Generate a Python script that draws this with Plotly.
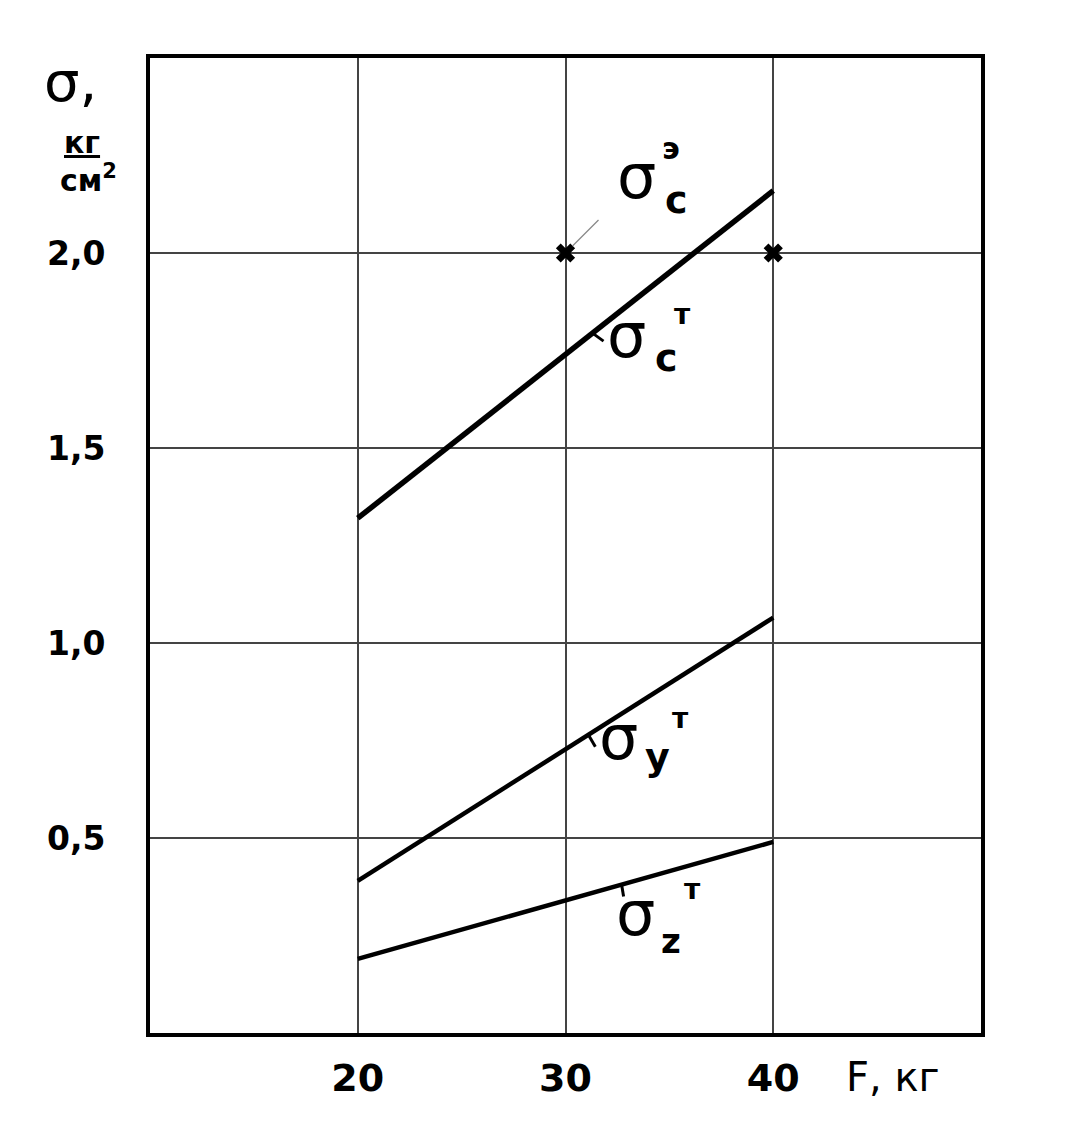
import plotly.graph_objects as go

# ---- data ----
F_load = [20, 40]                    # F, кг
sigma_c_T = [1.32, 2.16]             # σc^т
sigma_y_T = [0.39, 1.065]            # σy^т
sigma_z_T = [0.19, 0.49]             # σz^т
F_exp = [30, 40]                     # experimental points
sigma_c_E = [2.0, 2.0]               # σc^э

x_ticks = [20, 30, 40]
x_ticktext = ["20", "30", "40"]
y_ticks = [0.5, 1.0, 1.5, 2.0]
y_ticktext = ["0,5", "1,0", "1,5", "2,0"]

FONT = "DejaVu Sans"

# page has an 8px body margin; plot area on screen is 150..981 x 58..1033
PL, PR, PT, PB = 150, 981, 58, 1033
OFF = 8
W, H = 1068 - 2 * OFF, 1140 - 2 * OFF


def px2data(px, py):
    return 10 + (px - PL) * 40 / (PR - PL), (PB - py) * 2.5 / (PB - PT)


def px2paper(px, py):
    return (px - PL) / (PR - PL), (PB - py) / (PB - PT)


def interp(xs, ys, x):
    return ys[0] + (ys[1] - ys[0]) * (x - xs[0]) / (xs[1] - xs[0])


fig = go.Figure()
fig.add_trace(go.Scatter(x=F_load, y=sigma_c_T, mode="lines", line=dict(color="black", width=5.5), showlegend=False))
fig.add_trace(go.Scatter(x=F_load, y=sigma_y_T, mode="lines", line=dict(color="black", width=4.5), showlegend=False))
fig.add_trace(go.Scatter(x=F_load, y=sigma_z_T, mode="lines", line=dict(color="black", width=4.5), showlegend=False))
fig.add_trace(go.Scatter(x=F_exp, y=sigma_c_E, mode="markers",
                         marker=dict(symbol="x", size=17, color="black"), showlegend=False))

shapes = []
# leader from experimental point toward the σc^э label
shapes.append(dict(type="line", xref="x", yref="y", xsizemode="pixel", ysizemode="pixel",
                   xanchor=F_exp[0], yanchor=sigma_c_E[0], x0=7, y0=7, x1=33, y1=33,
                   line=dict(color="#888", width=1.2)))
# small ticks on lines next to labels
for xs, ys, xp, dx, dy in [(F_load, sigma_c_T, 31.3, 11, -8),
                           (F_load, sigma_y_T, 31.1, 7, -12),
                           (F_load, sigma_z_T, 32.7, 2, -12)]:
    shapes.append(dict(type="line", xref="x", yref="y", xsizemode="pixel", ysizemode="pixel",
                       xanchor=xp, yanchor=interp(xs, ys, xp), x0=0, y0=0, x1=dx, y1=dy,
                       line=dict(color="black", width=3)))

ann = []


def lab(px, py, t, size, bold=False):
    if bold:
        t = "<b>" + t + "</b>"
    x, y = px2data(px, py)
    ann.append(dict(x=x, y=y, xref="x", yref="y", text=t, showarrow=False,
                    xanchor="center", yanchor="middle",
                    font=dict(family=FONT, size=size, color="black")))


# σc^э
lab(636, 176, "σ", 62)
lab(676, 200, "c", 38, True)
lab(671, 148, "э", 30, True)
# σc^т
lab(626, 335, "σ", 62)
lab(666, 358, "c", 38, True)
lab(682, 314, "т", 28, True)
# σy^т
lab(618, 737, "σ", 62)
lab(657, 757, "y", 38, True)
lab(680, 718, "т", 28, True)
# σz^т
lab(635, 913, "σ", 62)
lab(671, 941, "z", 34, True)
lab(692, 889, "т", 28, True)


def plab(px, py, t, size, bold=True):
    if bold:
        t = "<b>" + t + "</b>"
    x, y = px2paper(px, py)
    ann.append(dict(x=x, y=y, xref="paper", yref="paper", text=t, showarrow=False,
                    xanchor="center", yanchor="middle",
                    font=dict(family=FONT, size=size, color="black")))


plab(70, 82, "σ,", 56, bold=False)
plab(82, 142, "<u>кг</u>", 30)
plab(88, 178, "см<sup>2</sup>", 30)
plab(893, 1077, "F, кг", 40, bold=False)

fig.update_layout(
    width=W, height=H,
    margin=dict(l=PL - OFF, r=W - (PR - OFF), t=PT - OFF, b=H - (PB - OFF)),
    plot_bgcolor="white", paper_bgcolor="white",
    annotations=ann, shapes=shapes,
    xaxis=dict(range=[10, 50], tickvals=x_ticks, ticktext=x_ticktext,
               showgrid=True, gridcolor="#444", gridwidth=2, zeroline=False,
               showline=True, mirror=True, linecolor="black", linewidth=4,
               ticks="", ticklabelstandoff=8,
               tickfont=dict(family=FONT, size=38, color="black", weight="bold")),
    yaxis=dict(range=[0, 2.5], tickvals=y_ticks, ticktext=y_ticktext,
               showgrid=True, gridcolor="#444", gridwidth=2, zeroline=False,
               showline=True, mirror=True, linecolor="black", linewidth=4,
               ticks="", ticklabelstandoff=34,
               tickfont=dict(family=FONT, size=33, color="black", weight="bold")),
)

fig.write_html("out.html")
